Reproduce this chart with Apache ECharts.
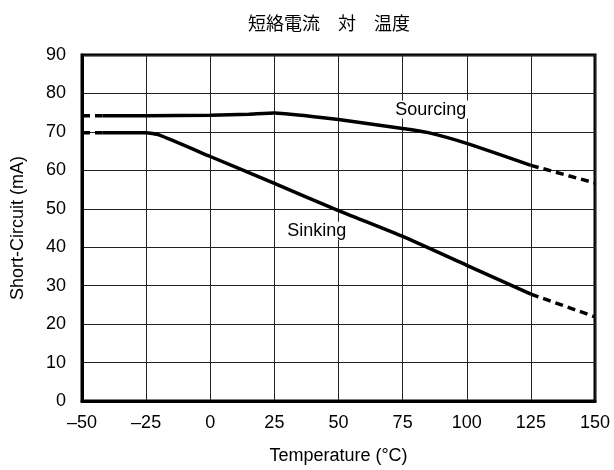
<!DOCTYPE html>
<html>
<head>
<meta charset="utf-8">
<script src="https://cdn.jsdelivr.net/npm/echarts@6/dist/echarts.min.js"></script>
<style>html,body{margin:0;padding:0;background:#fff}#c{width:614px;height:470px}</style>
</head>
<body>
<div id="c"></div>
<script>
// Data (temperature °C, short-circuit current mA)
const sourcingDashLeft = [[-50, 74.2], [-42, 74.2]];
const sourcingSolid = [[-42, 74.2], [-25, 74.2], [0, 74.3], [15, 74.6], [25, 74.9], [50, 73.2], [75, 70.9], [85, 69.8], [100, 67.0], [125, 61.3]];
const sourcingDashRight = [[125, 61.3], [150, 56.7]];
const sinkingDashLeft = [[-50, 69.8], [-42, 69.8]];
const sinkingSolid = [[-42, 69.8], [-25, 69.8], [-20, 69.2], [0, 63.6], [25, 56.6], [50, 49.5], [75, 42.8], [100, 35.3], [125, 27.8]];
const sinkingDashRight = [[125, 27.8], [150, 21.9]];
const annotations = [
  { text: 'Sourcing', coord: [86, 75.8] },
  { text: 'Sinking', coord: [41.5, 44.3] }
];
const titleText = '短絡電流　対　温度';
const xName = 'Temperature (°C)';
const yName = 'Short-Circuit (mA)';

const FONT = 'Liberation Sans, Arial, sans-serif';
const chart = echarts.init(document.getElementById('c'), null, { renderer: 'canvas' });

function lineSeries(data, dashed, extra) {
  return Object.assign({
    type: 'line',
    data: data,
    showSymbol: false,
    smooth: dashed ? false : 0.15,
    lineStyle: { color: '#000', width: 3.5, type: dashed ? [8, 5] : 'solid', cap: 'butt' },
    silent: true,
    z: 5
  }, extra || {});
}

chart.setOption({
  animation: false,
  backgroundColor: '#fff',
  title: {
    text: titleText,
    left: 243,
    top: 9,
    textStyle: { fontFamily: 'Noto Sans CJK JP', fontSize: 18, fontWeight: 'normal', color: '#000' }
  },
  grid: {
    left: 82, right: 19, top: 55, bottom: 66,
    show: true, borderColor: '#000', borderWidth: 3, backgroundColor: 'transparent'
  },
  xAxis: {
    type: 'value', min: -50, max: 150, interval: 25,
    name: xName, nameLocation: 'middle', nameGap: 46,
    nameTextStyle: { fontFamily: FONT, fontSize: 18, color: '#000' },
    axisLine: { show: true, onZero: false, lineStyle: { color: '#000', width: 3 } },
    axisTick: { show: false },
    splitLine: { show: true, lineStyle: { color: '#222', width: 1 } },
    axisLabel: {
      fontFamily: FONT, fontSize: 18, color: '#000', margin: 13,
      formatter: v => (v < 0 ? '\u2013' + Math.abs(v) : String(v))
    }
  },
  yAxis: {
    type: 'value', min: 0, max: 90, interval: 10,
    name: yName, nameLocation: 'middle', nameGap: 55, nameRotate: 90,
    nameTextStyle: { fontFamily: FONT, fontSize: 18, color: '#000' },
    axisLine: { show: true, onZero: false, lineStyle: { color: '#000', width: 3 } },
    axisTick: { show: false },
    splitLine: { show: true, lineStyle: { color: '#222', width: 1 } },
    axisLabel: { fontFamily: FONT, fontSize: 18, color: '#000', margin: 16 }
  },
  series: [
    lineSeries(sourcingDashLeft, true),
    lineSeries(sourcingSolid, false, {
      markPoint: {
        symbol: 'circle', symbolSize: 0,
        label: { show: true, position: 'inside', fontFamily: FONT, fontSize: 18, color: '#000',
                 backgroundColor: '#fff', padding: [0, 2],
                 formatter: p => p.name },
        data: annotations.map(a => ({ name: a.text, coord: a.coord }))
      }
    }),
    lineSeries(sourcingDashRight, true),
    lineSeries(sinkingDashLeft, true),
    lineSeries(sinkingSolid, false),
    lineSeries(sinkingDashRight, true)
  ]
});
</script>
</body>
</html>
